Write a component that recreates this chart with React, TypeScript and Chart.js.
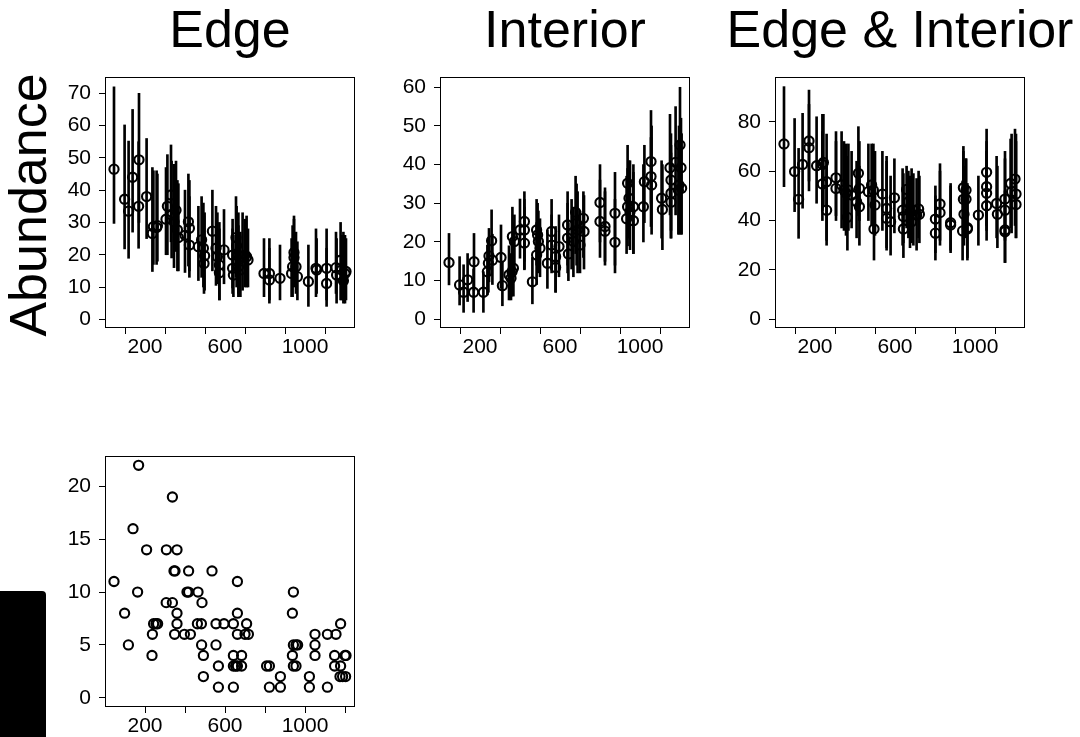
import React, { useEffect, useRef } from 'react';
import { Chart, registerables } from 'chart.js';
Chart.register(...registerables);

const FONT = '"Liberation Sans", Arial, Helvetica, sans-serif';

// ---- axis ticks ----
const xTickValues = [200, 400, 600, 800, 1000, 1200];
const xTickLabels = ['200', '', '600', '', '1000', ''];
const edgeTicks = [0, 10, 20, 30, 40, 50, 60, 70];
const interiorTicks = [0, 10, 20, 30, 40, 50, 60];
const bothTicks = [0, 20, 40, 60, 80];
const countTicks = [0, 5, 10, 15, 20];

// ---- Edge ----
const edgeDistance = [45,98,118,138,170,168,208,237,242,258,262,305,312,330,333,345,355,362,367,400,417,422,422,467,483,492,498,495,537,555,562,572,572,595,638,638,642,655,658,667,667,677,688,700,708,715,795,822,822,875,945,945,938,933,955,962,1017,1055,1058,1108,1108,1155,1158,1178,1183,1192,1200,1205];
const edgeMean = [46.5,37.2,33.5,44,49.4,35,38,26.6,28.7,28.4,29,31,35,38.5,32.3,30.2,33.8,27.7,25.3,26,30.2,28.2,23,22.5,24.6,22,19.7,17.3,27.3,22,19.4,16.8,14.4,21.5,19.9,15.8,13.7,25.3,22.8,19.9,16.3,15.3,19.4,19.9,19.4,18.4,14.2,14.2,12.2,12.7,20.7,19.1,16.3,14.2,16.3,13.2,11.7,15.8,15.3,15.8,11.1,16,13.7,18.3,15.3,11.9,14.2,14.8];
const edgeLower = [29.7,21.8,18.9,27,30,22,25,14.8,17,17,18,20,20,24,19,16,21,15,15,14.5,16.5,15,13,12,13,10,9,8,15,10.5,11,6,6,11,9.7,8,7,13,10,8,7,7,9,10,10,10,7,6,5,6,12,10,7,7,8,6,4,7,8,6,4,8,5,6,6,5,5,6];
const edgeUpper = [72,60.2,55.2,65,70,55,56,47,46,46,45,47,51,54,49,48,49,43,42,40,45,43,38,35,38,36,33,32,40,35,33,30,28,34,31,28,26,38,35,33,29,27,33,31,32,28,25,25,22,23,32,31,29,25,27,24,23,28,25,28,22,27,25,30,26,27,26,25];

// ---- Interior ----
const interiorDistance = [45,98,118,138,170,168,217,237,242,245,258,262,305,312,345,355,360,367,362,372,400,422,422,422,462,483,488,492,483,500,537,558,558,578,578,595,638,638,642,658,667,678,683,688,700,717,720,800,800,825,825,875,875,938,945,938,950,933,967,967,1017,1022,1055,1055,1058,1108,1112,1150,1155,1155,1155,1178,1200,1205,1195,1208,1192];
const interiorMean = [14.7,8.9,7,10.2,14.9,7,7,12.3,14.5,16.4,20.3,15.3,16,8.7,11.5,10.6,12.3,13.2,21.4,20.1,23.1,25.3,23.1,19.7,9.7,23.1,21.8,20.1,16.6,18.4,14.5,22.7,19.2,16.2,13.4,18.8,24.4,21,16.9,22.2,20.1,27.7,24.8,23.1,19.2,26.1,22.7,30.2,25.3,24,22.8,27.4,19.9,35.2,31.3,29.1,27.8,26,25.5,29.1,29.1,35.6,40.8,36.9,34.7,31.3,28.4,39.2,36,32.6,30.3,40.6,45.1,39.2,34.7,33.9,33.4];
const interiorLower = [8.9,3.7,1.8,4.6,7.5,1.8,1.8,6.3,7,9.7,11.5,9,8,3.5,5,5,6,6,12,11,15.8,12.8,15,13,4,14,13,12,9,11,8,13,12,7,7,11,14,12,10,13,11,17,14,12,12,16,13,20,16,15,14,14,12,25,21,19,18,17,17,17,20,25,30,24,22,21,18,27,23,21,21,27,26,22,22,22,22];
const interiorUpper = [22.2,16.2,14.1,17,22.2,13,12.3,19.2,21,23.5,28.3,22,24.4,15,19,17,20,25,29,27,31.1,33,31,29,16,31,30,28,25,26,23,31,27,24,22,27,33,30,25,31,29,37,35,33,28,33,32,40,36,34,33,38,31,45,41,39,41,37,38,40,40,45,54,47,50,41,40,53,48,45,43,55,60,52,50,48,46];

// ---- Edge & Interior ----
const bothDistance = [45,98,118,138,170,170,208,237,242,237,258,258,305,305,333,345,355,362,367,383,417,422,408,422,467,483,492,500,495,537,558,558,578,597,638,642,642,658,667,675,683,692,708,718,722,802,802,825,825,878,878,942,942,945,938,955,955,962,962,1017,1058,1058,1058,1058,1108,1112,1150,1150,1150,1150,1178,1183,1200,1205,1205];
const bothMean = [71,59.8,48.6,62.7,72.2,69.5,62.2,62.7,63.5,54.8,55.7,44.2,57.3,53,54.4,52.3,51,41.3,52.3,50.3,59.1,53,47.6,45.6,51.7,54.4,52.3,46.3,36.6,50.7,44.9,40.9,39.5,49.2,44.2,41.6,36.6,52.6,47.6,43.6,39.5,44.2,42.2,44.7,42.5,40.6,34.9,46.7,43.2,39.1,38.2,53.3,48.6,42.5,35.8,52.3,48.6,37.1,36.6,42.2,59.5,53.7,51,46,46.9,42.5,48.7,44.2,36.2,35.5,55,51.7,56.8,50.7,46.5];
const bothLower = [53.7,43.6,32.8,45,56,52,47,44,46,40,30,32,42,40,37,36,34,28,36,37,42,40,33,30,40,38,35,34,24,36,28,29,26,35,30,31,25,37,33,29,31,30,28,33,31,27,24,32,30,28,27,35,32,30,24,36,33,25,24,30,42,38,36,32,33,29,33,32,23,23,37,35,38,33,33];
const bothUpper = [94.2,81.3,69.2,83.4,92.8,87,82,83,83,76,75,64,76,72,76,72,71,66,71,68,78,72,64,62,71,71,71,68,52,68,66,64,58,65,61,59,54,62,60,58,61,59,57,60,58,54,50,63,60,55,54,70,68,62,56,65,65,52,55,58,77,72,68,62,66,62,68,65,52,50,73,75,77,75,72];

// ---- Counts (second row) ----
const countDistance = [45,98,117,140,168,163,208,235,237,243,255,263,307,306,337,337,345,350,360,360,360,348,397,427,410,418,418,465,462,482,485,483,492,492,535,555,555,567,567,595,642,642,642,642,662,662,662,662,653,683,683,708,700,717,808,822,822,877,877,942,937,942,937,942,955,963,955,1022,1022,1050,1050,1050,1112,1112,1155,1148,1178,1148,1178,1175,1188,1200,1205,1203];
const countValue = [11,8,5,16,22,10,14,4,6,7,7,7,14,9,9,19,12,12,14,8,7,6,6,6,10,10,12,10,7,7,9,5,4,2,12,7,5,3,1,7,7,4,3,1,11,8,6,3,3,4,3,7,6,6,3,3,1,2,1,10,8,5,4,3,5,5,3,2,1,6,5,4,1,6,6,4,7,3,3,2,2,4,4,2];

const framePlugin = {
  id: 'frame',
  afterDraw(chart: any) {
    const { ctx, chartArea: a } = chart;
    ctx.save();
    ctx.strokeStyle = '#000';
    ctx.lineWidth = 1;
    ctx.strokeRect(Math.round(a.left) + 0.5, Math.round(a.top) + 0.5, Math.round(a.right - a.left) - 1, Math.round(a.bottom - a.top) - 1);
    ctx.restore();
  },
};

const AXIS_W = 70;
const AXIS_H = 45;
const PAD_T = 10;
const PAD_R = 10;

type PanelProps = {
  left: number; top: number; width: number; height: number;
  yMin: number; yMax: number; yTicks: number[];
  dist: number[]; mean: number[]; lower?: number[]; upper?: number[];
};

function Panel(p: PanelProps) {
  const ref = useRef<HTMLCanvasElement | null>(null);
  const cw = p.width + AXIS_W + PAD_R;
  const ch = p.height + AXIS_H + PAD_T;
  useEffect(() => {
    const datasets: any[] = [];
    datasets.push({
      type: 'scatter',
      data: p.dist.map((x, i) => ({ x, y: p.mean[i] })),
      pointRadius: 4.6,
      pointHoverRadius: 4.6,
      pointBorderWidth: 2.1,
      pointBorderColor: '#000',
      pointBackgroundColor: 'rgba(0,0,0,0)',
      borderColor: '#000',
      backgroundColor: 'rgba(0,0,0,0)',
    });
    if (p.lower && p.upper) {
      const lo = p.lower, hi = p.upper;
      datasets.push({
        type: 'bar',
        data: p.dist.map((x, i) => ({ x, y: [lo[i], hi[i]] })),
        backgroundColor: '#000',
        borderWidth: 0,
        barThickness: 2,
        grouped: false,
      });
    }
    const tickFont = { family: FONT, size: 21 };
    const chart = new Chart(ref.current as HTMLCanvasElement, {
      type: 'scatter',
      data: { datasets },
      options: {
        animation: false,
        responsive: false,
        events: [],
        layout: { padding: { top: PAD_T, right: PAD_R, left: 0, bottom: 0 } },
        plugins: { legend: { display: false }, tooltip: { enabled: false } },
        scales: {
          x: {
            type: 'linear', min: 0, max: 1250, offset: false,
            afterBuildTicks: (s: any) => { s.ticks = xTickValues.map((v) => ({ value: v })); },
            afterFit: (s: any) => { s.height = AXIS_H; s.paddingLeft = 0; s.paddingRight = 0; s.paddingTop = 0; s.paddingBottom = 0; },
            grid: { display: true, drawOnChartArea: false, drawTicks: true, tickLength: 6, color: '#000', lineWidth: 1 },
            border: { display: false },
            ticks: {
              autoSkip: false, maxRotation: 0, minRotation: 0, color: '#000', font: tickFont, padding: 1,
              callback: (_v: any, i: number) => xTickLabels[i] ?? '',
            },
          },
          y: {
            type: 'linear', min: p.yMin, max: p.yMax,
            afterBuildTicks: (s: any) => { s.ticks = p.yTicks.map((v) => ({ value: v })); },
            afterFit: (s: any) => { s.width = AXIS_W; s.paddingTop = 0; s.paddingBottom = 0; s.paddingLeft = 0; s.paddingRight = 0; },
            grid: { display: true, drawOnChartArea: false, drawTicks: true, tickLength: 6, color: '#000', lineWidth: 1 },
            border: { display: false },
            ticks: {
              autoSkip: false, color: '#000', font: tickFont, padding: 8,
              callback: (v: any) => String(v),
            },
          },
        },
      } as any,
      plugins: [framePlugin],
    });
    return () => chart.destroy();
  }, []);
  return (
    <canvas
      ref={ref}
      width={cw}
      height={ch}
      style={{ position: 'absolute', left: p.left - AXIS_W, top: p.top - PAD_T, width: cw, height: ch }}
    />
  );
}

const titleStyle: React.CSSProperties = {
  position: 'absolute', top: 3, width: 400, textAlign: 'center',
  fontFamily: FONT, fontSize: 52, lineHeight: '52px', color: '#000', whiteSpace: 'nowrap',
};

export default function App() {
  return (
    <div style={{ position: 'absolute', left: 0, top: 0, width: 1080, height: 737, background: '#fff', overflow: 'hidden' }}>
      <div style={{ ...titleStyle, left: 230 - 200 }}>Edge</div>
      <div style={{ ...titleStyle, left: 565 - 200 }}>Interior</div>
      <div style={{ ...titleStyle, left: 900 - 200 }}>Edge &amp; Interior</div>
      <div
        style={{
          position: 'absolute', left: 28 - 150, top: 205 - 26, width: 300, height: 52,
          textAlign: 'center', fontFamily: FONT, fontSize: 52, lineHeight: '52px', color: '#000',
          transform: 'rotate(-90deg)', transformOrigin: '150px 26px', whiteSpace: 'nowrap',
        }}
      >
        Abundance
      </div>
      <div style={{ position: 'absolute', left: 0, top: 591, width: 46, height: 146, background: '#000', borderTopRightRadius: 4 }} />
      <Panel left={105} top={77} width={250} height={251} yMin={-2.7} yMax={75.05} yTicks={edgeTicks}
        dist={edgeDistance} mean={edgeMean} lower={edgeLower} upper={edgeUpper} />
      <Panel left={440} top={77} width={250} height={251} yMin={-2.25} yMax={62.66} yTicks={interiorTicks}
        dist={interiorDistance} mean={interiorMean} lower={interiorLower} upper={interiorUpper} />
      <Panel left={775} top={77} width={250} height={251} yMin={-3.5} yMax={98.1} yTicks={bothTicks}
        dist={bothDistance} mean={bothMean} lower={bothLower} upper={bothUpper} />
      <Panel left={105} top={456} width={250} height={251} yMin={-0.88} yMax={22.88} yTicks={countTicks}
        dist={countDistance} mean={countValue} />
    </div>
  );
}
